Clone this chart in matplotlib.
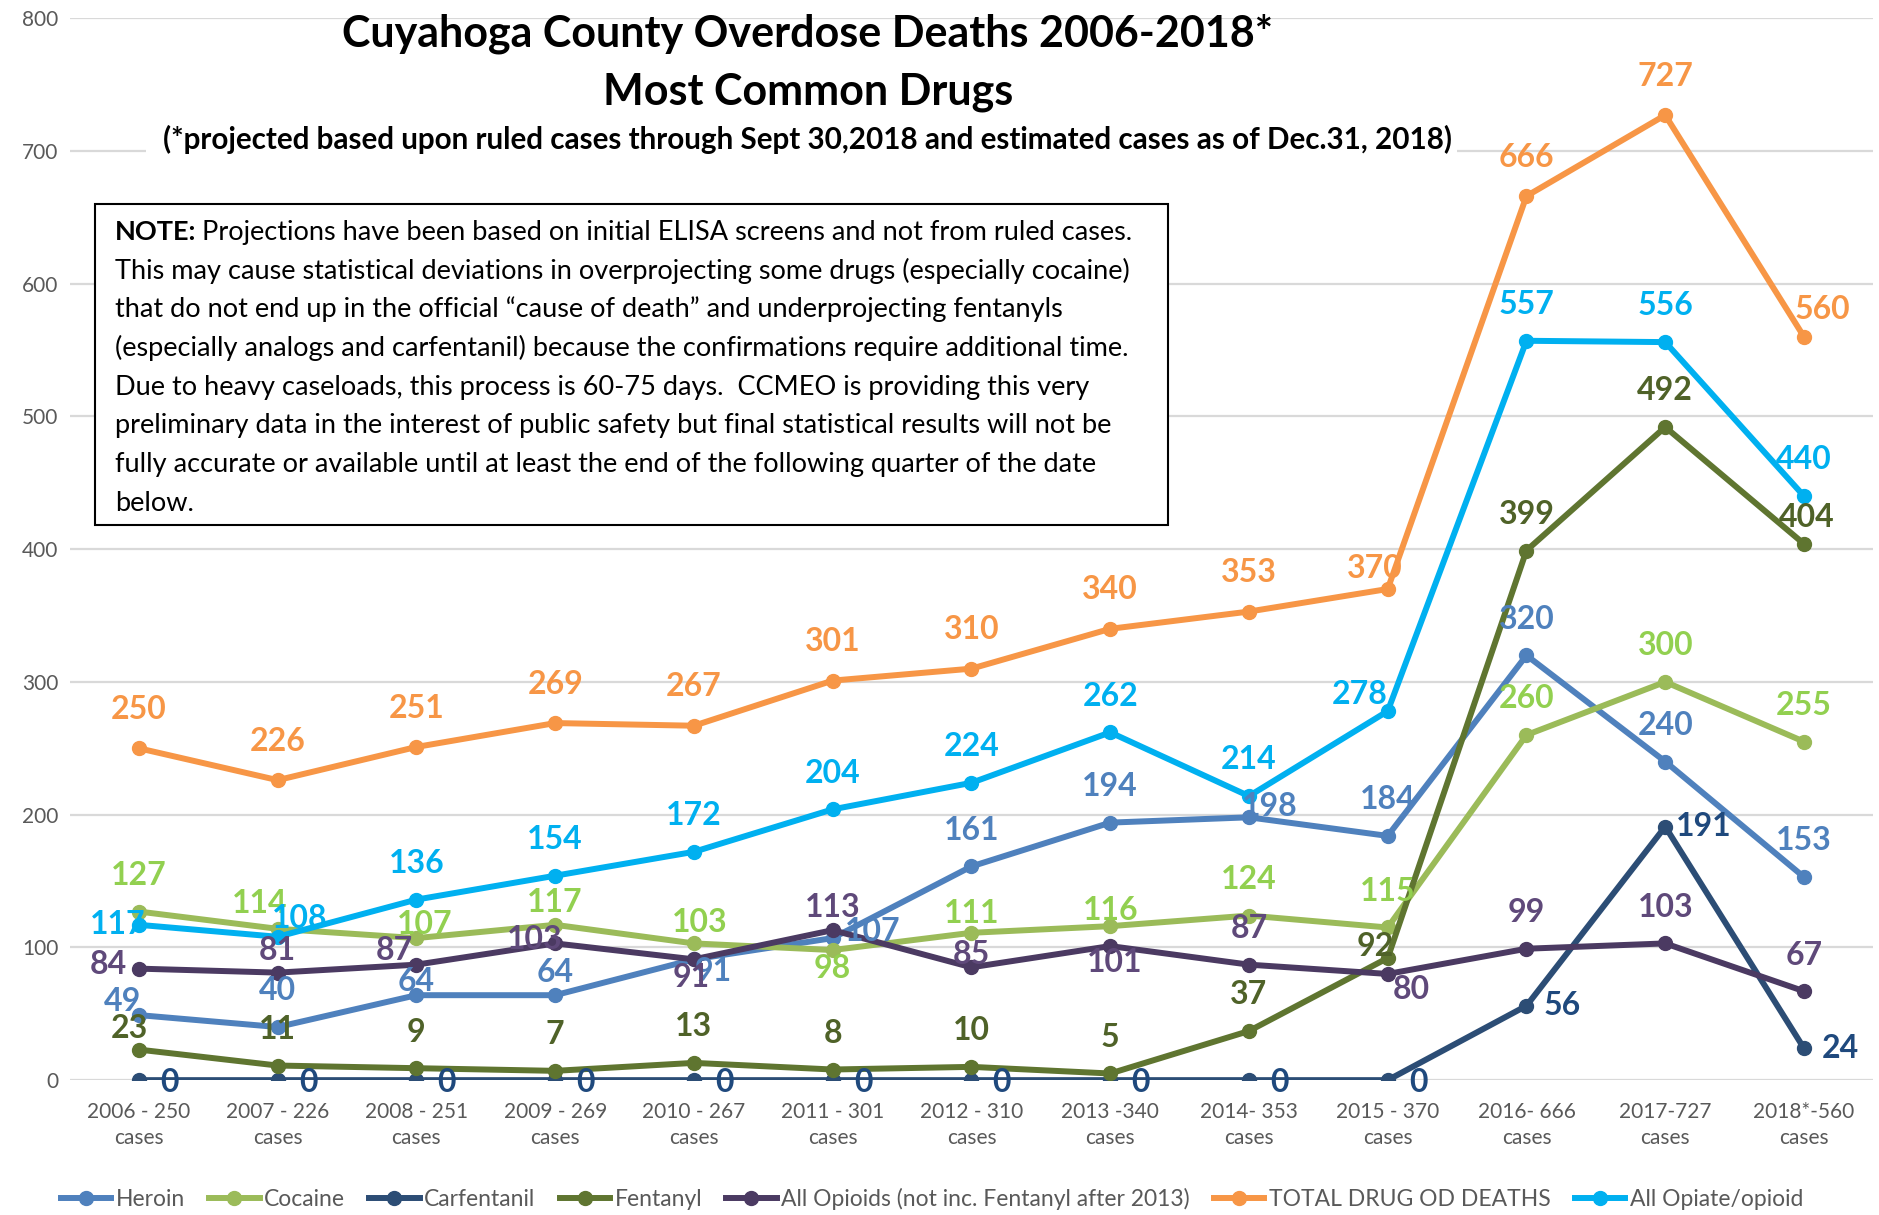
import numpy as np
import matplotlib.pyplot as plt
from matplotlib.patches import Rectangle

plt.rcParams['font.family'] = ['Lato', 'DejaVu Sans']

# ---- data -------------------------------------------------------------
categories = ['2006 - 250\ncases', '2007 - 226\ncases', '2008 - 251\ncases',
              '2009 - 269\ncases', '2010 - 267\ncases', '2011 - 301\ncases',
              '2012 - 310\ncases', '2013 -340\ncases', '2014- 353\ncases',
              '2015 - 370\ncases', '2016- 666\ncases', '2017-727\ncases',
              '2018*-560\ncases']

heroin = [49, 40, 64, 64, 91, 107, 161, 194, 198, 184, 320, 240, 153]
cocaine = [127, 114, 107, 117, 103, 98, 111, 116, 124, 115, 260, 300, 255]
carfentanil = [0, 0, 0, 0, 0, 0, 0, 0, 0, 0, 56, 191, 24]
fentanyl = [23, 11, 9, 7, 13, 8, 10, 5, 37, 92, 399, 492, 404]
all_opioids = [84, 81, 87, 103, 91, 113, 85, 101, 87, 80, 99, 103, 67]
total_od = [250, 226, 251, 269, 267, 301, 310, 340, 353, 370, 666, 727, 560]
all_opiate = [117, 108, 136, 154, 172, 204, 224, 262, 214, 278, 557, 556, 440]

note_lines = [
    'This may cause statistical deviations in overprojecting some drugs (especially cocaine)',
    'that do not end up in the official \u201ccause of death\u201d and underprojecting fentanyls',
    '(especially analogs and carfentanil) because the confirmations require additional time.',
    'Due to heavy caseloads, this process is 60-75 days.  CCMEO is providing this very',
    'preliminary data in the interest of public safety but final statistical results will not be',
    'fully accurate or available until at least the end of the following quarter of the date',
    'below.',
]

# (name, values, line colour, label colour, default label offset, overrides)
series = [
    ('Heroin', heroin, '#4F81BD', '#4F81BD', (0, 26),
     {0: (-12, 10), 2: (0, 10), 3: (0, 16), 4: (14, -9), 5: (29, 5), 8: (15, 8)}),
    ('Cocaine', cocaine, '#9BBB59', '#92D050', (0, 26),
     {1: (-13, 18), 2: (6, 10), 3: (0, 16), 4: (4, 15), 5: (0, -13), 6: (0, 14), 7: (0, 11)}),
    ('Carfentanil', carfentanil, '#2C4D75', '#1F497D', (22, -2),
     {10: (26, 0), 11: (28, 0), 12: (26, 0)}),
    ('Fentanyl', fentanyl, '#5F7530', '#4F6228', (0, 26),
     {0: (-7, 15), 9: (-9, 8), 12: (2, 19)}),
    ('All Opioids (not inc. Fentanyl after 2013)', all_opioids, '#4B3A62', '#5F497A', (0, 26),
     {0: (-22, 3), 1: (0, 16), 2: (-16, 10), 3: (-15, 3), 4: (-2, -13), 5: (0, 16),
      6: (0, 9), 7: (3, -12), 9: (17, -11)}),
    ('TOTAL DRUG OD DEATHS', total_od, '#F79646', '#F79646', (0, 28),
     {9: (-9, 15), 12: (13, 20)}),
    ('All Opiate/opioid', all_opiate, '#00B0F0', '#00B0F0', (0, 26),
     {0: (-15, 0), 1: (16, 13), 9: (-20, 12)}),
]

# ---- figure -----------------------------------------------------------
fig = plt.figure(figsize=(18.79, 12.15), dpi=100)
ax = fig.add_axes([0.037, 0.111, 0.96, 0.874])

x = np.arange(len(categories))
for name, vals, col, lcol, off, over in series:
    ax.plot(x, vals, color=col, lw=4.3, marker='o', ms=10, label=name, zorder=3,
            solid_joinstyle='round')
    for i, v in enumerate(vals):
        dx, dy = over.get(i, off)
        ax.annotate(str(v), (x[i], v), xytext=(dx, dy), textcoords='offset points',
                    ha='center', va='center', fontsize=23, fontweight='bold',
                    color=lcol, zorder=5)

ax.set_xlim(-0.5, len(categories) - 0.5)
ax.set_ylim(0, 800)
ax.set_yticks(np.arange(0, 801, 100))
ax.set_xticks(x)
ax.set_xticklabels(categories, fontsize=15, color='#595959', linespacing=1.35)
ax.tick_params(axis='y', labelsize=15, labelcolor='#595959', length=0, pad=8)
ax.tick_params(axis='x', length=0, pad=16)
ax.grid(axis='y', color='#D9D9D9', lw=1.6)
ax.set_axisbelow(True)
for s in ax.spines.values():
    s.set_visible(False)

# white panel behind the title
fig.patches.append(Rectangle((0.0777, 0.868), 0.6977, 0.111, transform=fig.transFigure,
                             facecolor='white', edgecolor='none', zorder=1))
fig.text(0.43, 0.972, 'Cuyahoga County Overdose Deaths 2006-2018*', ha='center', va='center',
         fontsize=31, fontweight='bold', zorder=2)
fig.text(0.43, 0.924, 'Most Common Drugs', ha='center', va='center',
         fontsize=31, fontweight='bold', zorder=2)
fig.text(0.43, 0.885, '(*projected based upon ruled cases through Sept 30,2018 and estimated cases as of Dec.31, 2018)',
         ha='center', va='center', fontsize=21.3, fontweight='bold', zorder=2)

# note box
fig.patches.append(Rectangle((0.0506, 0.568), 0.571, 0.264, transform=fig.transFigure,
                             facecolor='white', edgecolor='black', lw=1.5, zorder=1))
y0, dy = 0.809, 0.0319
fs_note = 19.5
t = fig.text(0.0612, y0, 'NOTE:', ha='left', va='center', fontsize=fs_note,
             fontweight='bold', zorder=2)
r = fig.canvas.get_renderer()
bb = t.get_window_extent(r)
fig.text((bb.x1 + 6) / fig.bbox.width, y0,
         'Projections have been based on initial ELISA screens and not from ruled cases.',
         ha='left', va='center', fontsize=fs_note, zorder=2)
for k, line in enumerate(note_lines):
    fig.text(0.0612, y0 - (k + 1) * dy, line, ha='left', va='center', fontsize=fs_note, zorder=2)

fig.legend(loc='center', bbox_to_anchor=(0.496, 0.013), ncol=7, frameon=False,
           fontsize=16.5, handlelength=2.2, columnspacing=1.05, handletextpad=0.2,
           labelcolor='#595959')

fig.savefig('out.png', dpi=100)
